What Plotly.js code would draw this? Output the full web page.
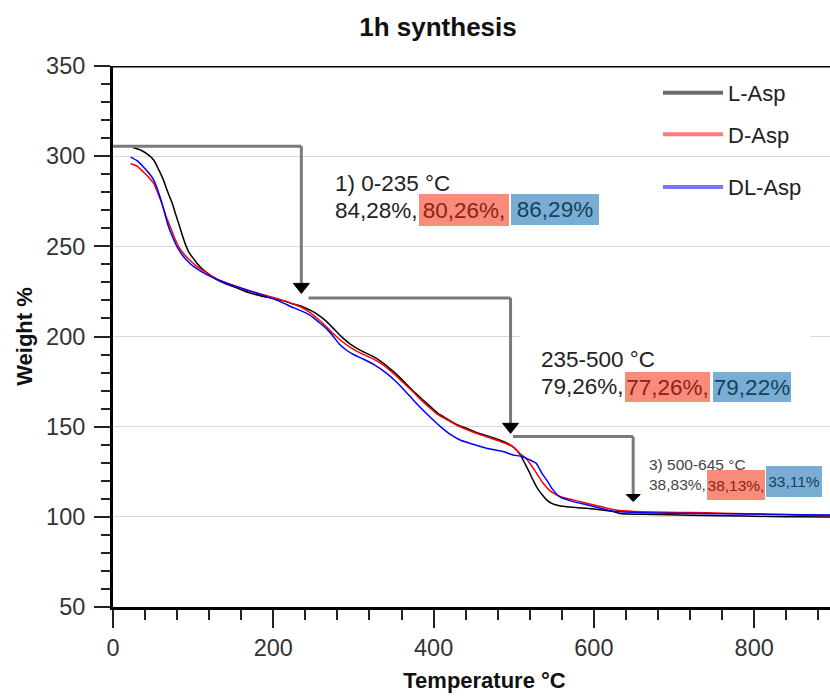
<!DOCTYPE html>
<html>
<head>
<meta charset="utf-8">
<script src="https://cdn.plot.ly/plotly-3.0.1.min.js"></script>
<style>
html, body { margin:0; padding:0; overflow:hidden; background:#fff; }
#chart { width:856px; height:700px; }
</style>
</head>
<body>
<div id="chart"></div>
<script>
// ---- data ----
const seriesNames = ['L-Asp', 'D-Asp', 'DL-Asp'];

const tempL = [25,35,45,51,57,63,68,74,78,82,86,90,95,99,105,113,122,130,140,150,160,171,185,200,215,225,235,246,256,266,276,286,296,310,325,338,350,362,374,385,395,405,416,430,441,455,470,480,491,500,508,514,520,525,530,536,541,548,557,570,590,610,624,632,660,694,720,760,819,860,927];
const weightL = [304.8,303.3,300.4,297.7,292.5,286.7,280.5,273.7,268,262.6,256.8,251.5,246.5,244,240.5,236.8,233.8,231.4,229.4,227.7,225.9,224.1,222.5,221.1,219.5,218,216.8,214.6,212,208.5,204,199.5,195.8,192,188.8,185,180.5,175.5,170,165.5,161.5,157.5,154.5,151,149.1,146.5,144.5,143,141,138.5,134.5,129.5,124.2,119.5,115.5,112,109.4,107.3,106.1,105.4,104.8,103.8,102.9,101.9,101.4,101.1,100.9,100.6,100.2,100,99.8];

const tempD = [22,30,38,45,51,56,61,66,71.5,77,82,89,96,105,117,130,150,170,192,210,225,235,245,255,265,275,285,296,310,325,338,350,362,374,385,395,405,416,430,441,455,470,480,491,500,508,514,520,528,536,545,553,565,582,600,611,622,632,660,690,719,760,820,860,927];
const weightD = [295.8,294.5,291.2,288,284.8,279.5,273.7,267,260.7,254.5,249.7,245.5,242.3,238.8,235.3,231.8,228.4,225.4,222.6,220.3,218,216.2,213.5,210,206,201.5,197.5,194,190.5,187.5,184,179.5,174.5,169.5,164.5,160.5,156.8,154,150.5,148.5,146,143.8,142.3,140.5,138.5,135,133,129.7,124.5,119,114.5,112.2,110.3,108.5,106.6,105.4,104.2,103.5,102.8,102.5,102.4,102,101.3,100.9,100.5];

const tempDL = [22,30,38,45,51,56,61,65,69.4,75,80,86,92,100,113,130,150,170,190,208,225,240,250,258,266,274,282,291,300,312,325,341.5,352,363,374.6,386,399.5,410,420,433,445,466,486.7,499,510,520,528,536,541,548,557,570,582,600,615,628,660,694,760,819,860,927];
const weightDL = [299.5,297.5,294,290.5,286.6,281,274,267.5,260.7,254.5,249.7,245.5,242.3,239,235.3,231.6,228.2,225.3,222.4,219.5,216,213.2,210.5,207.5,204.5,200.5,196,192.5,190,187.5,184.5,179.6,175.5,170.5,164.8,159.5,153.7,149.5,146,142.6,140.8,138,136.2,134.3,133.5,131.6,129.7,123.5,120.5,115.5,111.2,109,107.6,105.7,104,102.9,102.3,102,101.7,101.5,101.2,100.8];

// mass-loss steps
const stepRange = ['1) 0-235 °C', '235-500 °C', '3) 500-645 °C'];
const stepStartT = [0, 244, 499];
const stepEndT = [235, 496, 649];
const stepLevel = [305.5, 221.4, 144.5];
const stepTip = [223.9, 146.3, 108.5];
const lossL = ['84,28%,', '79,26%,', '38,83%,'];
const lossD = ['80,26%,', '77,26%,', '38,13%,'];
const lossDL = ['86,29%', '79,22%', '33,11%'];

// ---- styling ----
const FONT = 'Liberation Sans, Arial, Helvetica, sans-serif';
const curveColors = ['#000000', '#ff0000', '#0000ff'];
const legendColors = ['#6b6b6b', '#ff7b7b', '#7676ff'];
const redBox = '#f98b7b', blueBox = '#79aed4';
const redText = '#8c2218', blueText = '#173f5e';

const temps = [tempL, tempD, tempDL];
const weights = [weightL, weightD, weightDL];

const traces = [];
for (let i = 0; i < 3; i++) {
  traces.push({
    x: temps[i], y: weights[i], type: 'scatter', mode: 'lines',
    name: seriesNames[i], showlegend: false,
    line: {color: curveColors[i], width: 1.5, shape: 'spline', smoothing: 0.4}
  });
}
for (let i = 0; i < 3; i++) {
  traces.push({
    x: [null], y: [null], type: 'scatter', mode: 'lines',
    name: seriesNames[i], showlegend: true,
    legend: i < 2 ? 'legend' : 'legend2',
    legendgroup: 'g' + i,
    line: {color: legendColors[i], width: 4}
  });
}

const shapes = [];
// top frame line
shapes.push({type:'line', xref:'paper', yref:'y', x0:0, x1:1, y0:350, y1:350,
  line:{color:'#000', width:3}, layer:'above'});
// white cover behind step-2 text
shapes.push({type:'rect', xref:'x', yref:'y', x0:508, x1:870, y0:197, y1:203,
  fillcolor:'#ffffff', line:{width:0}, layer:'above'});

const headW = [8, 8, 7], headH = [10, 10, 7];
for (let i = 0; i < 3; i++) {
  const lc = {color:'#7a7a7a', width:3};
  shapes.push({type:'line', xref:'x', yref:'y', x0:stepStartT[i], x1:stepEndT[i],
    y0:stepLevel[i], y1:stepLevel[i], line:lc, layer:'above'});
  shapes.push({type:'line', xref:'x', yref:'y', x0:stepEndT[i], x1:stepEndT[i],
    y0:stepLevel[i], y1:stepTip[i] + headH[i]/1.805, line:lc, layer:'above'});
  shapes.push({type:'path', xref:'x', yref:'y', xsizemode:'pixel', ysizemode:'pixel',
    xanchor:stepEndT[i], yanchor:stepTip[i],
    path:'M0,0 L-' + headW[i] + ',' + headH[i] + ' L' + headW[i] + ',' + headH[i] + ' Z',
    fillcolor:'#000', line:{color:'#000', width:1}, layer:'above'});
}

// text positions for each step block
const txtX = [274.5, 531.5, 665.9];
const txtY1 = [284.6, 187.0, 128.8];
const txtY2 = [270.1, 172.0, 117.7];
const txtSize = [22.5, 22.5, 15.5];
const redX = [437.9, 691.8, 777.0], redW = [90, 85, 58], redH = [32, 30, 30];
const blueX = [551.5, 797.3, 849.4], blueW = [88, 78, 56], blueH = [31, 30, 31];
const blueY = [270.4, 172.0, 119.4];

const annotations = [];
for (let i = 0; i < 3; i++) {
  const tc = i === 2 ? '#444444' : '#222222';
  annotations.push({x:txtX[i], y:txtY1[i], xref:'x', yref:'y', text:stepRange[i],
    showarrow:false, xanchor:'left', yanchor:'middle',
    font:{family:FONT, size:txtSize[i], color:tc}});
  annotations.push({x:txtX[i], y:txtY2[i], xref:'x', yref:'y', text:lossL[i],
    showarrow:false, xanchor:'left', yanchor:'middle',
    font:{family:FONT, size:txtSize[i], color:tc}});
  annotations.push({x:redX[i], y:txtY2[i], xref:'x', yref:'y', text:lossD[i],
    showarrow:false, xanchor:'center', yanchor:'middle', width:redW[i], height:redH[i],
    bgcolor:redBox, borderpad:0, borderwidth:0,
    font:{family:FONT, size:txtSize[i], color:redText}});
  annotations.push({x:blueX[i], y:blueY[i], xref:'x', yref:'y', text:lossDL[i],
    showarrow:false, xanchor:'center', yanchor:'middle', width:blueW[i], height:blueH[i],
    bgcolor:blueBox, borderpad:0, borderwidth:0,
    font:{family:FONT, size:txtSize[i], color:blueText}});
}

const layout = {
  width: 856, height: 700,
  margin: {l:113, r:0, t:66, b:93, pad:0},
  paper_bgcolor:'#fff', plot_bgcolor:'#fff',
  font: {family: FONT, color:'#333'},
  title: {text:'<b>1h synthesis</b>', font:{family:FONT, size:26, color:'#111'},
    x: 438/856, xref:'container', xanchor:'center', y: 1 - 27/700, yref:'container', yanchor:'middle'},
  xaxis: {
    range:[0, 927], dtick:200, tick0:0,
    showline:true, linecolor:'#000', linewidth:3,
    ticks:'outside', ticklen:18, tickwidth:2, tickcolor:'#222',
    minor:{ticks:'outside', dtick:40, ticklen:10, tickwidth:2, tickcolor:'#222', showgrid:false},
    showgrid:false, zeroline:false,
    tickfont:{family:FONT, size:23.5, color:'#333'},
    title:{text:'<b>Temperature °C</b>', font:{family:FONT, size:22, color:'#111'}, standoff:13}
  },
  yaxis: {
    range:[50, 350], dtick:50, tick0:0,
    showline:true, linecolor:'#000', linewidth:3,
    ticks:'outside', ticklen:16, tickwidth:2, tickcolor:'#222',
    minor:{ticks:'outside', dtick:10, ticklen:9, tickwidth:2, tickcolor:'#222', showgrid:false},
    showgrid:true, gridcolor:'#d9d9d9', gridwidth:1, zeroline:false,
    ticklabelstandoff:4,
    tickfont:{family:FONT, size:23.5, color:'#333'},
    title:{text:'<b>Weight %</b>', font:{family:FONT, size:22, color:'#111'}, standoff:8}
  },
  legend: {x:0.7335, y:0.989, xanchor:'left', yanchor:'top', bgcolor:'rgba(0,0,0,0)',
    font:{family:FONT, size:22, color:'#222'}, itemwidth:60, tracegroupgap:10},
  legend2: {x:0.7335, y:0.815, xanchor:'left', yanchor:'top', bgcolor:'rgba(0,0,0,0)',
    font:{family:FONT, size:22, color:'#222'}, itemwidth:60},
  shapes: shapes,
  annotations: annotations,
  showlegend: true
};

Plotly.newPlot('chart', traces, layout, {displayModeBar:false, staticPlot:true});
</script>
</body>
</html>
